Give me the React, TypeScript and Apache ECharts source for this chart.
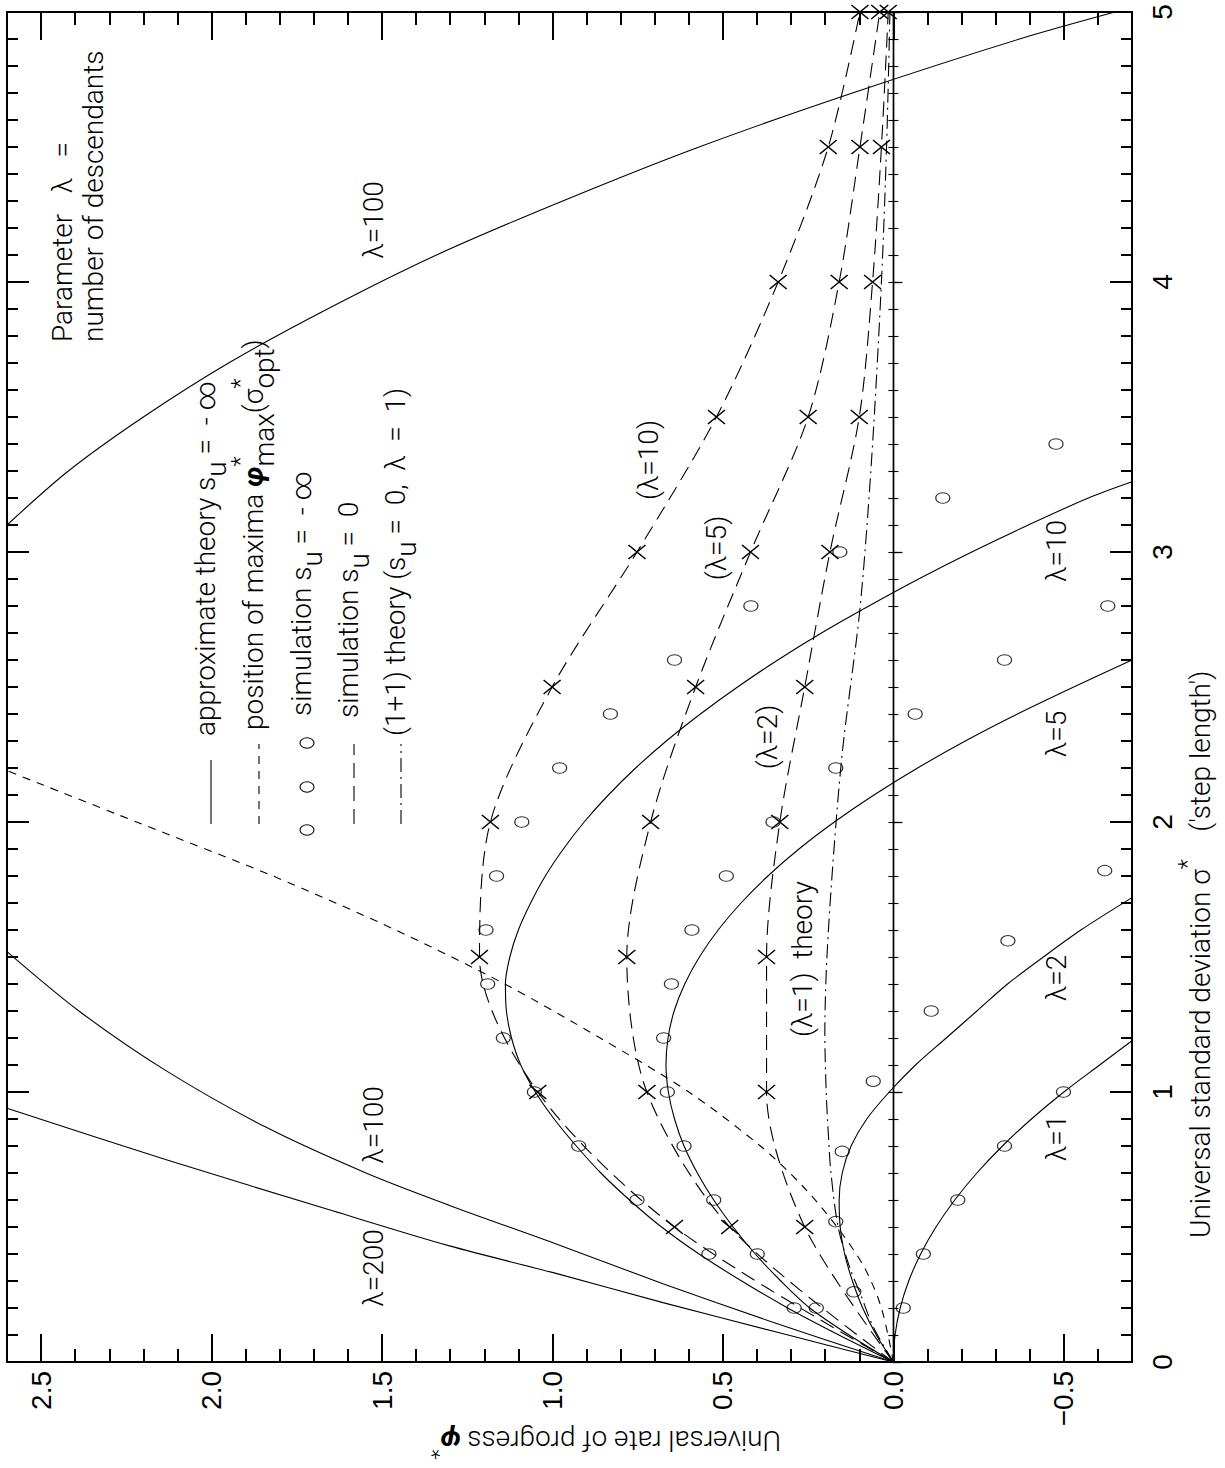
import React, { useEffect, useRef } from "react";
import * as echarts from "echarts";

const WIDTH = 1225;
const HEIGHT = 1468;

// plotting rectangle (pixels)
const PLOT = { left: 7, top: 12, width: 1125, height: 1350 };

// phi* runs horizontally (decreasing to the right), sigma* runs vertically
const PHI_RANGE = [-0.7, 2.6];
const SIGMA_RANGE = [0, 5];
const PHI_TICK_LABELS = [-0.5, 0, 0.5, 1, 1.5, 2, 2.5];
const SIGMA_TICK_LABELS = [0, 1, 2, 3, 4, 5];

// approximate theory, s_u = -inf (sigma*, phi*)
const THEORY_L1_SIGMA = [0, 0.1, 0.2, 0.3, 0.4, 0.5, 0.6, 0.7, 0.8, 0.9, 1.0, 1.1, 1.19];
const THEORY_L1_PHI = [0, -0.005, -0.02, -0.045, -0.08, -0.125, -0.18, -0.245, -0.32, -0.405, -0.5, -0.605, -0.7];
const THEORY_L2_SIGMA = [0, 0.1, 0.2, 0.3, 0.4, 0.5, 0.6, 0.7, 0.8, 0.9, 1.0, 1.1, 1.2, 1.3, 1.4, 1.5, 1.6, 1.72];
const THEORY_L2_PHI = [0, 0.05, 0.09, 0.12, 0.143, 0.156, 0.159, 0.15, 0.124, 0.078, 0.012, -0.065, -0.155, -0.245, -0.335, -0.44, -0.55, -0.7];
const THEORY_L5_SIGMA = [0, 0.1, 0.2, 0.3, 0.4, 0.5, 0.6, 0.7, 0.8, 0.9, 1.0, 1.1, 1.2, 1.3, 1.4, 1.5, 1.6, 1.7, 1.8, 1.9, 2.0, 2.1, 2.2, 2.3, 2.4, 2.5, 2.6];
const THEORY_L5_PHI = [0, 0.13, 0.245, 0.33, 0.405, 0.47, 0.527, 0.575, 0.614, 0.642, 0.66, 0.667, 0.661, 0.643, 0.612, 0.569, 0.514, 0.447, 0.368, 0.277, 0.173, 0.057, -0.071, -0.211, -0.364, -0.529, -0.7];
const THEORY_L10_SIGMA = [0, 0.1, 0.2, 0.3, 0.4, 0.5, 0.6, 0.7, 0.8, 0.9, 1.0, 1.1, 1.2, 1.3, 1.4, 1.5, 1.6, 1.7, 1.8, 1.9, 2.0, 2.1, 2.2, 2.3, 2.4, 2.5, 2.6, 2.7, 2.8, 2.9, 3.0, 3.1, 3.2, 3.26];
const THEORY_L10_PHI = [0, 0.16, 0.31, 0.445, 0.57, 0.68, 0.774, 0.858, 0.93, 0.995, 1.05, 1.093, 1.12, 1.135, 1.138, 1.125, 1.1, 1.064, 1.021, 0.968, 0.907, 0.836, 0.756, 0.666, 0.566, 0.457, 0.339, 0.211, 0.072, -0.074, -0.23, -0.396, -0.572, -0.7];
const THEORY_L100_LOW_SIGMA = [0, 0.15, 0.29, 0.44, 0.58, 0.7, 0.87, 1.08, 1.3, 1.52];
const THEORY_L100_LOW_PHI = [0, 0.36, 0.676, 0.995, 1.302, 1.547, 1.841, 2.135, 2.389, 2.6];
const THEORY_L100_HIGH_SIGMA = [3.1, 3.3, 3.5, 3.7, 3.9, 4.1, 4.3, 4.5, 4.7, 4.9, 5.0];
const THEORY_L100_HIGH_PHI = [2.6, 2.42, 2.2, 1.95, 1.66, 1.34, 0.97, 0.57, 0.12, -0.37, -0.65];
const THEORY_L200_SIGMA = [0, 0.11, 0.22, 0.33, 0.43, 0.56, 0.75, 0.94];
const THEORY_L200_PHI = [0, 0.34, 0.676, 0.995, 1.302, 1.645, 2.135, 2.6];

// position of maxima phi*_max(sigma*_opt)
const MAXIMA_SIGMA = [0, 0.2, 0.35, 0.5, 0.65, 0.8, 1.0, 1.2, 1.4, 1.6, 1.8, 2.0, 2.19];
const MAXIMA_PHI = [0, 0.035, 0.085, 0.165, 0.265, 0.39, 0.6, 0.86, 1.14, 1.46, 1.82, 2.22, 2.6];

// (1+1) theory, s_u = 0, lambda = 1
const PLUS_SIGMA = [0, 0.13, 0.25, 0.35, 0.5, 0.7, 0.85, 1.0, 1.22, 1.59, 2.23, 2.79, 3.34, 4.0, 4.5, 5.0];
const PLUS_PHI = [0, 0.059, 0.096, 0.128, 0.162, 0.183, 0.191, 0.197, 0.201, 0.191, 0.152, 0.098, 0.064, 0.035, 0.02, 0.01];

// simulation s_u = 0 (crosses joined by dashed curves)
const SIM0_SIGMA = [0, 0.5, 1.0, 1.5, 2.0, 2.5, 3.0, 3.5, 4.0, 4.5, 5.0];
const SIM0_L10_PHI = [0, 0.642, 1.043, 1.214, 1.182, 1.001, 0.752, 0.519, 0.338, 0.191, 0.098];
const SIM0_L5_PHI = [0, 0.48, 0.723, 0.782, 0.712, 0.58, 0.419, 0.25, 0.159, 0.098, 0.04];
const SIM0_L2_PHI = [0, 0.26, 0.372, 0.372, 0.333, 0.26, 0.186, 0.1, 0.061, 0.035, 0.015];

// simulation s_u = -inf (open circles)
const SIMINF_L10_SIGMA = [0.2, 0.4, 0.6, 0.8, 1.0, 1.2, 1.4, 1.6, 1.8, 2.0, 2.2, 2.4, 2.6, 2.8, 3.0, 3.2, 3.4];
const SIMINF_L10_PHI = [0.291, 0.541, 0.752, 0.923, 1.053, 1.144, 1.19, 1.195, 1.164, 1.09, 0.979, 0.83, 0.642, 0.418, 0.157, -0.145, -0.477];
const SIMINF_L5_SIGMA = [0.2, 0.4, 0.6, 0.8, 1.0, 1.2, 1.4, 1.6, 1.8, 2.0, 2.2, 2.4, 2.6, 2.8];
const SIMINF_L5_PHI = [0.226, 0.399, 0.527, 0.614, 0.663, 0.674, 0.651, 0.591, 0.49, 0.353, 0.169, -0.064, -0.326, -0.629];
const SIMINF_L2_SIGMA = [0.26, 0.52, 0.78, 1.04, 1.3, 1.56, 1.82];
const SIMINF_L2_PHI = [0.116, 0.169, 0.15, 0.059, -0.111, -0.336, -0.62];
const SIMINF_L1_SIGMA = [0.2, 0.4, 0.6, 0.8, 1.0];
const SIMINF_L1_PHI = [-0.029, -0.088, -0.189, -0.326, -0.499];

const FONT = "Roboto, 'Liberation Sans', 'DejaVu Sans', sans-serif";
const TICK_FONT = "'Liberation Sans Narrow', 'Liberation Sans', sans-serif";
const INK = "#000";
const X_MARK = "path://M0,0L17,14M17,0L0,14";
const DASH_SHORT = [8, 7];
const DASH_LONG = [15, 8];
const DASH_DOT = [14, 5, 2, 5];

let measureCtx: CanvasRenderingContext2D | null = null;
function textWidth(text: string, font: string): number {
  if (!measureCtx) measureCtx = document.createElement("canvas").getContext("2d");
  measureCtx!.font = font;
  return measureCtx!.measureText(text).width;
}

type Seg = { t: string; size?: number; shift?: number; italic?: boolean; bold?: boolean; stay?: boolean };

function segFont(s: Seg) {
  return `${s.italic ? "italic " : ""}${s.bold ? "bold" : "300"} ${s.size ?? 28}px ${FONT}`;
}

// lays out a run of text segments reading upward ("up") or upside down ("left")
function textRun(segs: Seg[], x0: number, y0: number, dir: "up" | "left") {
  let c = 0;
  const out: any[] = [];
  for (const s of segs) {
    const font = segFont(s);
    const sh = s.shift ?? 0;
    const x = dir === "up" ? x0 + sh : x0 - c;
    const y = dir === "up" ? y0 - c : y0 - sh;
    out.push({
      type: "text",
      x,
      y,
      rotation: dir === "up" ? Math.PI / 2 : Math.PI,
      silent: true,
      z: 20,
      style: {
        text: s.t,
        font,
        fill: INK,
        align: "left",
        verticalAlign: "middle",
        textAlign: "left",
        textVerticalAlign: "middle",
      },
    });
    if (!s.stay) c += textWidth(s.t, font);
  }
  return out;
}

function runLength(segs: Seg[]) {
  return segs.reduce((a, s) => a + (s.stay ? 0 : textWidth(s.t, segFont(s))), 0);
}

function centeredUp(segs: Seg[], cx: number, cy: number) {
  return textRun(segs, cx, cy + runLength(segs) / 2, "up");
}

const pts = (sig: number[], phi: number[]) => sig.map((s, i) => [phi[i], s]);

function curve(name: string, sig: number[], phi: number[], dash: any = "solid") {
  return {
    type: "line",
    name,
    data: pts(sig, phi),
    smooth: 0.3,
    symbol: "none",
    showSymbol: false,
    silent: true,
    z: 3,
    lineStyle: { color: INK, width: 1.1, type: dash },
  };
}

function crossCurve(name: string, phi: number[]) {
  return {
    type: "line",
    name,
    data: SIM0_SIGMA.map((s, i) => (s === 0 ? { value: [phi[i], s], symbol: "none" } : [phi[i], s])),
    smooth: 0.3,
    symbol: X_MARK,
    symbolSize: [17, 14],
    showSymbol: true,
    silent: true,
    z: 4,
    itemStyle: { color: "rgba(0,0,0,0)", borderColor: INK, borderWidth: 1.3 },
    lineStyle: { color: INK, width: 1.1, type: DASH_LONG },
  };
}

function circles(name: string, sig: number[], phi: number[]) {
  return {
    type: "scatter",
    name,
    data: pts(sig, phi),
    symbol: "circle",
    symbolSize: [14, 10.5],
    silent: true,
    z: 5,
    itemStyle: { color: "rgba(0,0,0,0)", borderColor: INK, borderWidth: 1.1 },
  };
}

function phiLabel(v: number) {
  if (Math.abs(v) < 1e-9) return "0.0";
  return (v < 0 ? "\u2212" : "") + Math.abs(v).toFixed(1);
}

function buildOption() {
  const frameLine = { show: true, onZero: false, lineStyle: { color: INK, width: 2 } };
  const hidden = { show: false };
  const tick = (len: number, width = 2) => ({ show: true, inside: true, length: len, lineStyle: { color: INK, width } });

  const phiBase = { type: "value", inverse: true, min: PHI_RANGE[0], max: PHI_RANGE[1], splitLine: hidden };
  const sigBase = { type: "value", min: SIGMA_RANGE[0], max: SIGMA_RANGE[1], splitLine: hidden };

  const xAxis = [
    {
      ...phiBase,
      position: "bottom",
      axisLine: frameLine,
      axisTick: { ...tick(28), customValues: PHI_TICK_LABELS },
      axisLabel: {
        customValues: PHI_TICK_LABELS,
        rotate: 90,
        margin: 9,
        fontSize: 28,
        fontFamily: TICK_FONT,
        color: INK,
        formatter: (v: number) => (PHI_TICK_LABELS.some((t) => Math.abs(t - v) < 1e-6) ? phiLabel(v) : ""),
      },
    },
    { ...phiBase, position: "bottom", interval: 0.1, axisLine: { show: false, onZero: false }, axisTick: tick(13), axisLabel: hidden },
    { ...phiBase, position: "top", axisLine: frameLine, axisTick: { ...tick(28), customValues: PHI_TICK_LABELS }, axisLabel: hidden },
    { ...phiBase, position: "top", interval: 0.1, axisLine: { show: false, onZero: false }, axisTick: tick(13), axisLabel: hidden },
  ];

  const yAxis = [
    {
      ...sigBase,
      position: "right",
      interval: 1,
      axisLine: frameLine,
      axisTick: tick(22),
      axisLabel: {
        rotate: 90,
        margin: 16,
        fontSize: 28,
        fontFamily: TICK_FONT,
        color: INK,
        formatter: (v: number) => (SIGMA_TICK_LABELS.includes(Math.round(v)) ? String(Math.round(v)) : ""),
      },
    },
    { ...sigBase, position: "right", interval: 0.1, axisLine: { show: false, onZero: false }, axisTick: tick(11), axisLabel: hidden },
    { ...sigBase, position: "left", interval: 1, axisLine: frameLine, axisTick: tick(22), axisLabel: hidden },
    { ...sigBase, position: "left", interval: 0.1, axisLine: { show: false, onZero: false }, axisTick: tick(11), axisLabel: hidden },
    // the sigma* axis drawn through phi* = 0, ticks on both sides
    {
      ...sigBase,
      position: "left",
      interval: 0.1,
      axisLine: { show: true, onZero: true, lineStyle: { color: INK, width: 1.4 } },
      axisTick: { show: true, inside: true, length: 5, lineStyle: { color: INK, width: 1.1 } },
      axisLabel: hidden,
    },
    {
      ...sigBase,
      position: "left",
      interval: 0.1,
      axisLine: { show: true, onZero: true, lineStyle: { color: INK, width: 1.4 } },
      axisTick: { show: true, inside: false, length: 5, lineStyle: { color: INK, width: 1.1 } },
      axisLabel: hidden,
    },
    {
      ...sigBase,
      position: "left",
      interval: 1,
      axisLine: { show: false, onZero: true },
      axisTick: { show: true, inside: true, length: 9, lineStyle: { color: INK, width: 1.3 } },
      axisLabel: hidden,
    },
  ];

  const series: any[] = [
    curve("approx λ=1", THEORY_L1_SIGMA, THEORY_L1_PHI),
    curve("approx λ=2", THEORY_L2_SIGMA, THEORY_L2_PHI),
    curve("approx λ=5", THEORY_L5_SIGMA, THEORY_L5_PHI),
    curve("approx λ=10", THEORY_L10_SIGMA, THEORY_L10_PHI),
    curve("approx λ=100", THEORY_L100_LOW_SIGMA, THEORY_L100_LOW_PHI),
    curve("approx λ=100 (upper)", THEORY_L100_HIGH_SIGMA, THEORY_L100_HIGH_PHI),
    curve("approx λ=200", THEORY_L200_SIGMA, THEORY_L200_PHI),
    curve("position of maxima", MAXIMA_SIGMA, MAXIMA_PHI, DASH_SHORT),
    curve("(1+1) theory", PLUS_SIGMA, PLUS_PHI, DASH_DOT),
    crossCurve("sim s_u=0 λ=10", SIM0_L10_PHI),
    crossCurve("sim s_u=0 λ=5", SIM0_L5_PHI),
    crossCurve("sim s_u=0 λ=2", SIM0_L2_PHI),
    circles("sim λ=10", SIMINF_L10_SIGMA, SIMINF_L10_PHI),
    circles("sim λ=5", SIMINF_L5_SIGMA, SIMINF_L5_PHI),
    circles("sim λ=2", SIMINF_L2_SIGMA, SIMINF_L2_PHI),
    circles("sim λ=1", SIMINF_L1_SIGMA, SIMINF_L1_PHI),
  ];

  // legend block
  const legendRows: { x: number; y: number; kind: string; segs: Seg[] }[] = [
    { x: 205, y: 736, kind: "solid", segs: [{ t: "approximate theory s" }, { t: "u", shift: 11 }, { t: " =  - \u221e" }] },
    {
      x: 253,
      y: 730,
      kind: "short",
      segs: [
        { t: "position of maxima " },
        { t: "\u03c6", italic: true, bold: true },
        { t: "*", shift: -13, size: 24, stay: true },
        { t: "max", shift: 11 },
        { t: "(\u03c3" },
        { t: "*", shift: -13, size: 24, stay: true },
        { t: "opt", shift: 11 },
        { t: ")" },
      ],
    },
    { x: 301, y: 716, kind: "circles", segs: [{ t: "simulation s" }, { t: "u", shift: 11 }, { t: " =  - \u221e" }] },
    { x: 348, y: 718, kind: "long", segs: [{ t: "simulation s" }, { t: "u", shift: 11 }, { t: " =  0" }] },
    { x: 395, y: 736, kind: "dashdot", segs: [{ t: "(1+1) theory (s" }, { t: "u", shift: 11 }, { t: " =  0,  \u03bb  =  1)" }] },
  ];

  const graphics: any[] = [];
  for (const row of legendRows) {
    const sx = row.x + 6;
    if (row.kind === "circles") {
      for (const cy of [830, 787, 743]) {
        graphics.push({ type: "ellipse", shape: { cx: sx, cy, rx: 7, ry: 5.2 }, style: { fill: "none", stroke: INK, lineWidth: 1.1 }, silent: true });
      }
    } else {
      const dash = row.kind === "short" ? DASH_SHORT : row.kind === "long" ? DASH_LONG : row.kind === "dashdot" ? DASH_DOT : null;
      graphics.push({
        type: "line",
        shape: { x1: sx, y1: 824, x2: sx, y2: row.kind === "solid" ? 760 : 744 },
        style: { stroke: INK, lineWidth: 1.1, lineDash: dash || undefined },
        silent: true,
      });
    }
    graphics.push(...textRun(row.segs, row.x, row.y, "up"));
  }

  graphics.push(...textRun([{ t: "Parameter   \u03bb   =" }], 62, 342, "up"));
  graphics.push(...textRun([{ t: "number of descendants" }], 93, 342, "up"));

  // curve annotations
  const notes: [string, number, number][] = [
    ["\u03bb=200", 373, 1268],
    ["\u03bb=100", 373, 1125],
    ["\u03bb=100", 373, 220],
    ["(\u03bb=10)", 648, 460],
    ["(\u03bb=5)", 716, 548],
    ["(\u03bb=2)", 767, 737],
    ["\u03bb=10", 1056, 551],
    ["\u03bb=5", 1056, 734],
    ["\u03bb=2", 1056, 978],
    ["\u03bb=1", 1056, 1138],
  ];
  for (const [t, cx, cy] of notes) graphics.push(...centeredUp([{ t }], cx, cy));
  graphics.push(...textRun([{ t: "(\u03bb=1)  theory" }], 802, 1037, "up"));

  // axis titles
  graphics.push(
    ...textRun(
      [{ t: "Universal rate of progress " }, { t: "\u03c6", italic: true, bold: true }, { t: "*", shift: -10, size: 22 }],
      781,
      1440,
      "left"
    )
  );
  graphics.push(
    ...textRun(
      [{ t: "Universal standard deviation \u03c3" }, { t: "*", shift: -13, size: 24 }, { t: "    ('step length')" }],
      1200,
      1238,
      "up"
    )
  );

  return {
    animation: false,
    backgroundColor: "#fff",
    grid: { ...PLOT, containLabel: false },
    xAxis,
    yAxis,
    series,
    graphic: { elements: graphics },
  };
}

export default function App() {
  const ref = useRef<HTMLDivElement>(null);
  useEffect(() => {
    document.body.style.margin = "0";
    const chart = echarts.init(ref.current!, undefined, { renderer: "svg", width: WIDTH, height: HEIGHT });
    chart.setOption(buildOption() as any);
    return () => chart.dispose();
  }, []);
  return <div ref={ref} style={{ width: WIDTH, height: HEIGHT, background: "#fff" }} />;
}
